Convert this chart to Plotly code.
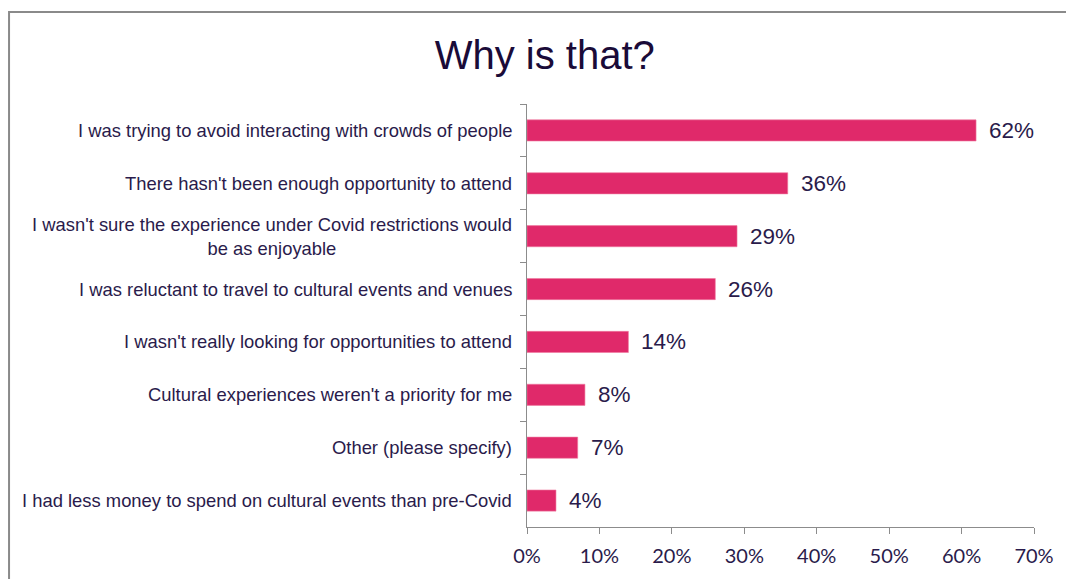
import plotly.graph_objects as go

# Survey responses, listed top to bottom
reasons = [
    "I was trying to avoid interacting with crowds of people",
    "There hasn't been enough opportunity to attend",
    "I wasn't sure the experience under Covid restrictions would<br>be as enjoyable",
    "I was reluctant to travel to cultural events and venues",
    "I wasn't really looking for opportunities to attend",
    "Cultural experiences weren't a priority for me",
    "Other (please specify)",
    "I had less money to spend on cultural events than pre-Covid",
]
shares = [62, 36, 29, 26, 14, 8, 7, 4]
x_ticks = [0, 10, 20, 30, 40, 50, 60, 70]
x_tick_labels = ["0%", "10%", "20%", "30%", "40%", "50%", "60%", "70%"]

BAR = "#E0296A"
INK = "#2A1B4B"
TITLE_INK = "#1A0B38"
AXIS = "#8C8C8C"

fig = go.Figure(
    go.Bar(
        x=shares,
        y=reasons,
        orientation="h",
        marker=dict(color=BAR, line=dict(color="#F07AA0", width=0.6)),
        width=0.4,
        hoverinfo="skip",
    )
)

annotations = []
# category labels, centred per line
for r in reasons:
    annotations.append(dict(
        x=0, xref="paper", y=r, yref="y",
        xanchor="right", yanchor="middle", xshift=-13,
        text=r, showarrow=False, align="center",
        font=dict(family="Liberation Sans, Arial, sans-serif", size=18.4, color=INK),
    ))
# value labels at the end of each bar
for r, v in zip(reasons, shares):
    annotations.append(dict(
        x=v, xref="x", y=r, yref="y",
        xanchor="left", yanchor="middle", xshift=11,
        text=f"{v}%", showarrow=False,
        font=dict(family="Liberation Sans, Arial, sans-serif", size=22.5, color=INK),
    ))

fig.update_layout(
    width=1066, height=579,
    margin=dict(l=527, r=30, t=104, b=52),
    paper_bgcolor="white", plot_bgcolor="white",
    showlegend=False,
    bargap=0.6,
    title=dict(
        text="Why is that?", x=0.511, xanchor="center", y=0.905, yanchor="middle",
        font=dict(family="Liberation Sans, Arial, sans-serif", size=40, color=TITLE_INK),
    ),
    xaxis=dict(
        range=[0, 70], tickvals=x_ticks, ticktext=x_tick_labels,
        showgrid=False, zeroline=False,
        showline=True, linecolor=AXIS, linewidth=1,
        ticks="outside", ticklen=6, tickcolor=AXIS,
        ticklabelstandoff=5,
        tickfont=dict(family="Lato, Carlito, sans-serif", size=20, color=INK),
        fixedrange=True,
    ),
    yaxis=dict(
        type="category", autorange="reversed",
        showticklabels=False, showgrid=False, zeroline=False,
        showline=True, linecolor=AXIS, linewidth=1,
        ticks="outside", ticklen=6, tickcolor=AXIS, tickson="boundaries",
        fixedrange=True,
    ),
    annotations=annotations,
    shapes=[dict(
        type="rect", xref="paper", yref="paper",
        x0=(7 - 527) / 509, x1=(1075 - 527) / 509,
        y0=(527 - 590) / 423, y1=(527 - 12) / 423,
        line=dict(color="#8A8A8A", width=2), fillcolor="rgba(0,0,0,0)", layer="below",
    )],
)

fig.write_html("out.html", config={"displayModeBar": False})
